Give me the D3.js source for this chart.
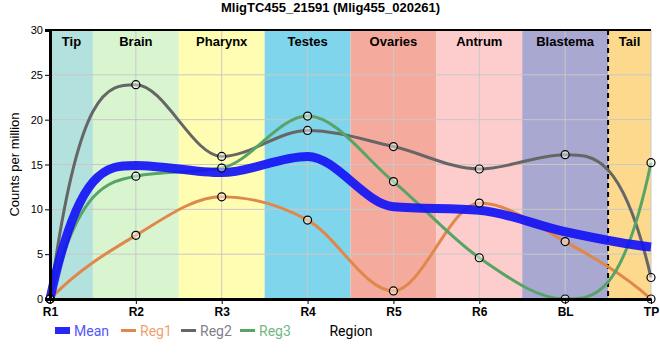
<!DOCTYPE html>
<html>
<head>
<meta charset="utf-8">
<script src="https://cdn.jsdelivr.net/npm/d3@7"></script>
<style>
  body { margin: 0; background: #fff; font-family: "Liberation Sans", Arial, sans-serif; }
</style>
</head>
<body>
<div id="chart"></div>
<script>
// positions along the body
const positions = ["R1", "R2", "R3", "R4", "R5", "R6", "BL", "TP"];

// tissue regions drawn as background bands
const regions = ["Tip", "Brain", "Pharynx", "Testes", "Ovaries", "Antrum", "Blastema", "Tail"];
const regionColors = ["#b3e1dd", "#d8f5d0", "#fffdb2", "#7fd5eb", "#f4ab9d", "#fdcccc", "#a8a8d0", "#fdd98d"];

// expression values (counts per million)
const meanValues = [0, 14.9, 14.1, 15.9, 10.3, 9.9, 7.5, 5.8];
const reg1Values = [0, 7.1, 11.4, 8.8, 0.9, 10.7, 6.4, 0];
const reg2Values = [0, 23.9, 15.9, 18.8, 17.0, 14.5, 16.1, 2.4];
const reg3Values = [0, 13.7, 14.6, 20.4, 13.1, 4.6, 0, 15.2];

const yTicks = [0, 5, 10, 15, 20, 25, 30];

const margin = { top: 30, right: 9, bottom: 61, left: 50 };
const width = 660 - margin.left - margin.right;
const height = 360 - margin.top - margin.bottom;

// monotone cubic curve, but the end tangents leave the end points steeply
// (zero curvature at the inner end of the first/last segment)
function MonoEnd(context) { this._context = context; }
MonoEnd.prototype = {
  areaStart() {}, areaEnd() {},
  lineStart() { this._pts = []; },
  point(x, y) { this._pts.push([+x, +y]); },
  lineEnd() {
    const p = this._pts, n = p.length, ctx = this._context;
    if (!n) return;
    ctx.moveTo(p[0][0], p[0][1]);
    if (n < 2) return;
    const s = [], h = [];
    for (let i = 0; i < n - 1; i++) {
      h.push(p[i + 1][0] - p[i][0]);
      s.push((p[i + 1][1] - p[i][1]) / h[i]);
    }
    const t = new Array(n).fill(0);
    for (let i = 1; i < n - 1; i++) {
      const s0 = s[i - 1], s1 = s[i];
      const q = (s0 * h[i] + s1 * h[i - 1]) / (h[i - 1] + h[i]);
      t[i] = (Math.sign(s0) + Math.sign(s1)) * Math.min(Math.abs(s0), Math.abs(s1), 0.5 * Math.abs(q)) || 0;
    }
    if (n > 2) {
      t[0] = 3 * s[0] - 2 * t[1];
      t[n - 1] = 3 * s[n - 2] - 2 * t[n - 2];
    } else {
      t[0] = t[1] = s[0];
    }
    for (let i = 0; i < n - 1; i++) {
      const dx = h[i] / 3;
      ctx.bezierCurveTo(p[i][0] + dx, p[i][1] + t[i] * dx,
                        p[i + 1][0] - dx, p[i + 1][1] - t[i + 1] * dx,
                        p[i + 1][0], p[i + 1][1]);
    }
  }
};
const curveMonoEnd = context => new MonoEnd(context);

const svg = d3.select("#chart")
  .append("svg")
  .attr("width", 660)
  .attr("height", 360)
  .append("g")
  .attr("transform", `translate(${margin.left}, ${margin.top})`);

const xScale = d3.scalePoint()
  .domain(positions)
  .range([0, width]);

const yScale = d3.scaleLinear()
  .domain([0, 30])
  .range([height, 0]);

const step = xScale.step();
const bandX0 = i => Math.max(0, xScale(positions[i]) - step / 2);
const bandX1 = i => Math.min(width, xScale(positions[i]) + step / 2);

// background bands, one per region (first and last are half width)
svg.selectAll("rect.band")
  .data(regions)
  .enter()
  .append("rect")
  .attr("class", "band")
  .attr("x", (d, i) => bandX0(i))
  .attr("width", (d, i) => bandX1(i) - bandX0(i))
  .attr("y", 0)
  .attr("height", height)
  .attr("fill", (d, i) => regionColors[i]);

// grid lines
svg.append("g")
  .selectAll("line")
  .data(positions)
  .enter()
  .append("line")
  .attr("x1", d => xScale(d))
  .attr("x2", d => xScale(d))
  .attr("y1", 0)
  .attr("y2", height)
  .attr("stroke", "#c8c8c8")
  .attr("stroke-width", 1);

svg.append("g")
  .selectAll("line")
  .data(yTicks.slice(1, -1))
  .enter()
  .append("line")
  .attr("x1", 0)
  .attr("x2", width)
  .attr("y1", d => yScale(d))
  .attr("y2", d => yScale(d))
  .attr("stroke", "#c8c8c8")
  .attr("stroke-width", 1);

// region labels
svg.selectAll("text.region")
  .data(regions)
  .enter()
  .append("text")
  .attr("class", "region")
  .attr("x", (d, i) => (bandX0(i) + bandX1(i)) / 2)
  .attr("y", 16)
  .attr("text-anchor", "middle")
  .style("font-size", "13px")
  .style("font-weight", "bold")
  .text(d => d);

// dashed line between Blastema and Tail
const tailX = xScale("TP") - step / 2;
svg.append("line")
  .attr("x1", tailX)
  .attr("x2", tailX)
  .attr("y1", 0)
  .attr("y2", height)
  .attr("stroke", "#000")
  .attr("stroke-width", 2)
  .attr("stroke-dasharray", "5,4");

const line = d3.line()
  .x((d, i) => xScale(positions[i]))
  .y(d => yScale(d))
  .curve(curveMonoEnd);

const series = [
  { name: "Reg1", values: reg1Values, color: "#e0884a", text: "#eea270" },
  { name: "Reg2", values: reg2Values, color: "#666666", text: "#80808c" },
  { name: "Reg3", values: reg3Values, color: "#58a466", text: "#72b880" }
];

series.forEach(s => {
  svg.append("path")
    .datum(s.values)
    .attr("fill", "none")
    .attr("stroke", s.color)
    .attr("stroke-width", 3)
    .attr("d", line);
});

svg.append("path")
  .datum(meanValues)
  .attr("fill", "none")
  .attr("stroke", "#1414f5")
  .attr("stroke-opacity", 0.92)
  .attr("stroke-width", 9)
  .attr("d", line);

series.forEach(s => {
  svg.append("g")
    .selectAll("circle")
    .data(s.values)
    .enter()
    .append("circle")
    .attr("cx", (d, i) => xScale(positions[i]))
    .attr("cy", d => yScale(d))
    .attr("r", 4)
    .attr("fill", "rgba(255,255,255,0.45)")
    .attr("stroke", "#000")
    .attr("stroke-width", 1.2);
});

// axes
const yAxis = d3.axisLeft(yScale)
  .tickValues(yTicks)
  .tickSize(5)
  .tickPadding(2);
const yg = svg.append("g").call(yAxis);
yg.select(".domain").attr("stroke-width", 3);
yg.selectAll("text").style("font-size", "11px").style("font-family", "Liberation Sans, Arial");

const xAxis = d3.axisBottom(xScale)
  .tickSize(5)
  .tickSizeOuter(0)
  .tickPadding(3);
const xg = svg.append("g")
  .attr("transform", `translate(0, ${height})`)
  .call(xAxis);
xg.select(".domain").attr("stroke-width", 3);
xg.selectAll("text").style("font-size", "12px").style("font-weight", "bold").style("font-family", "Liberation Sans, Arial");

// top border
svg.append("line")
  .attr("x1", 0)
  .attr("x2", width)
  .attr("y1", 0)
  .attr("y2", 0)
  .attr("stroke", "#000")
  .attr("stroke-width", 2);

// title
svg.append("text")
  .attr("x", width / 2 - 20)
  .attr("y", -18)
  .attr("text-anchor", "middle")
  .style("font-size", "13px")
  .style("font-weight", "bold")
  .text("MligTC455_21591 (Mlig455_020261)");

// y label
svg.append("text")
  .attr("transform", "rotate(-90)")
  .attr("x", -height / 2)
  .attr("y", -31)
  .attr("text-anchor", "middle")
  .style("font-size", "13px")
  .text("Counts per million");

// legend
const legend = svg.append("g").attr("transform", `translate(0, ${height + 37})`);
const legendItems = [
  { name: "Mean", color: "#2828f5", text: "#5656fa", w: 7, x: 5 },
  { name: "Reg1", color: series[0].color, text: series[0].text, w: 3, x: 71 },
  { name: "Reg2", color: series[1].color, text: series[1].text, w: 3, x: 131 },
  { name: "Reg3", color: series[2].color, text: series[2].text, w: 3, x: 190 }
];
legendItems.forEach(d => {
  legend.append("line")
    .attr("x1", d.x)
    .attr("x2", d.x + 15)
    .attr("y1", -5.5)
    .attr("y2", -5.5)
    .attr("stroke", d.color)
    .attr("stroke-width", d.w);
  legend.append("text")
    .attr("x", d.x + 19)
    .attr("y", 0)
    .style("font-size", "14px")
    .style("font-family", "Roboto, Liberation Sans, Arial")
    .style("fill", d.text)
    .text(d.name);
});
legend.append("text")
  .attr("x", 301)
  .attr("y", 0)
  .attr("text-anchor", "middle")
  .style("font-size", "14px")
  .style("font-family", "Roboto, Liberation Sans, Arial")
  .text("Region");
</script>
</body>
</html>
